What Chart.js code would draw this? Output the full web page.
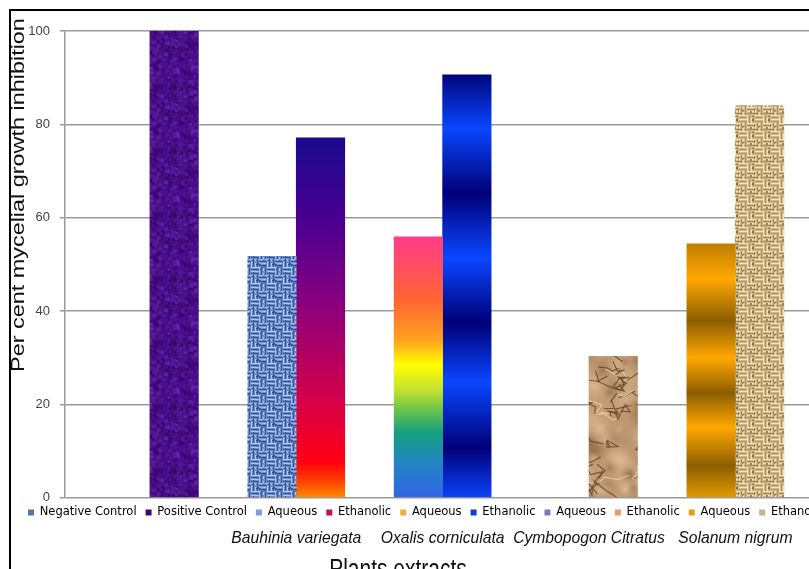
<!DOCTYPE html>
<html><head><meta charset="utf-8">
<script src="https://cdn.jsdelivr.net/npm/chart.js@4.4.1/dist/chart.umd.min.js"></script>
<style>
html,body{margin:0;padding:0;background:#fff;overflow:hidden;width:809px;height:569px;}
#frame{position:absolute;left:9px;top:9px;width:900px;height:600px;border:2px solid #000;background:#fff;}
canvas{display:block;}
</style></head><body>
<div id="frame"><canvas id="c" width="900" height="600"></canvas></div>
<script>
// ---- data ----
const seriesNames = ['Negative Control','Positive Control','Aqueous','Ethanolic','Aqueous','Ethanolic','Aqueous','Ethanolic','Aqueous','Ethanolic'];
const groupLabels = ['', 'Bauhinia variegata', 'Oxalis corniculata', 'Cymbopogon Citratus', 'Solanum nigrum'];
const leftBarValues  = [0, 51.7, 55.9, 0, 54.4];     // Negative Control, then Aqueous extracts
const rightBarValues = [100, 77.1, 90.6, 30.3, 84.0]; // Positive Control, then Ethanolic extracts
const yTicks = [0, 20, 40, 60, 80, 100];
const yTitle = 'Per cent mycelial growth inhibition';
const xTitle = 'Plants extracts';

// ---- styles ----
const legendColors = ['#4f74b0','#3c0a78','#7e9ed6','#c8104c','#f0b040','#1838d8','#8878b8','#e89a68','#e0a010','#c8b48c'];

function makeNoise(seed){ let s = seed >>> 0; return function(){ s = (Math.imul(s,1664525) + 1013904223) >>> 0; return s / 4294967296; }; }
function tile(w,h,draw){ const cv=document.createElement('canvas'); cv.width=w; cv.height=h; draw(cv.getContext('2d'),w,h); return cv; }
function wrapped(w,h,fn){ for(const dx of [-w,0,w]) for(const dy of [-h,0,h]) fn(dx,dy); }

const purpleTex = tile(64,64,(g,w,h)=>{
  g.fillStyle='#4a0e88'; g.fillRect(0,0,w,h);
  const r=makeNoise(7); const cols=['#34086a','#5c1ca6','#2a0656','#6a2ab8','#420c7c'];
  for(let i=0;i<900;i++){ g.globalAlpha=0.3+0.4*r(); g.fillStyle=cols[Math.floor(r()*cols.length)];
    const x=r()*w, y=r()*h, s=1+r()*3; wrapped(w,h,(dx,dy)=>g.fillRect(x+dx,y+dy,s,s)); }
  g.globalAlpha=1;
});
function weave(base, light, dark, seed, speck, n){
  return tile(16,16,(g,w,h)=>{
    g.fillStyle=base; g.fillRect(0,0,w,h);
    for(let by=0;by<2;by++) for(let bx=0;bx<2;bx++){
      const ox=bx*8, oy=by*8, horiz=(bx+by)%2===0;
      for(let k=0;k<4;k++){
        g.fillStyle = k%2 ? dark : light;
        if(horiz) g.fillRect(ox, oy+k*2, 8, 1); else g.fillRect(ox+k*2, oy, 1, 8);
      }
    }
    const r=makeNoise(seed);
    for(let i=0;i<n;i++){ g.globalAlpha=0.5*r()+0.25; g.fillStyle=speck; g.fillRect(Math.floor(r()*w),Math.floor(r()*h),1+Math.floor(r()*2),1+Math.floor(r()*2)); }
    g.globalAlpha=1;
  });
}
const blueTex = weave('#6f90cc','#b0c8ee','#34569c',3,'#1e3a7c',24);
const burlapTex = weave('#d2b987','#f2e4c2','#b29462',5,'#6e4e26',16);
const paperTex = tile(100,140,(g,w,h)=>{
  g.fillStyle='#c39b74'; g.fillRect(0,0,w,h);
  const r=makeNoise(11);
  for(let i=0;i<90;i++){ const x=r()*w,y=r()*h,rad=6+r()*18; const light=r()<0.5;
    wrapped(w,h,(dx,dy)=>{ const grd=g.createRadialGradient(x+dx,y+dy,0,x+dx,y+dy,rad);
      grd.addColorStop(0, light?'rgba(232,204,166,0.6)':'rgba(120,84,50,0.5)'); grd.addColorStop(1,'rgba(195,155,116,0)');
      g.fillStyle=grd; g.fillRect(x+dx-rad,y+dy-rad,rad*2,rad*2); }); }
  g.lineWidth=1.2;
  for(let i=0;i<45;i++){ const pts=[]; let x=r()*w,y=r()*h; pts.push([x,y]);
    for(let k=0;k<4;k++){ x+=(r()-0.5)*26; y+=(r()-0.5)*20; pts.push([x,y]); }
    const col = r()<0.75?'rgba(92,62,36,0.75)':'rgba(236,214,180,0.7)';
    wrapped(w,h,(dx,dy)=>{ g.strokeStyle=col; g.beginPath(); pts.forEach(([px,py],j)=> j? g.lineTo(px+dx,py+dy) : g.moveTo(px+dx,py+dy)); g.stroke(); }); }
});

const gradientStops = {
  bauEt: [[0,'#1a0a8c'],[0.23,'#4a0092'],[0.45,'#86007e'],[0.72,'#d2004c'],[0.9,'#ff0012'],[0.95,'#ff3a00'],[1,'#ff8c00']],
  oxAq:  [[0,'#ff3c8a'],[0.24,'#ff6432'],[0.4,'#ffa41e'],[0.49,'#ffff00'],[0.59,'#c4e030'],[0.67,'#64c04e'],[0.75,'#14a07e'],[0.87,'#2284c4'],[1,'#3264e6']],
  oxEt:  [[0,'#00067e'],[0.126,'#0a46ff'],[0.28,'#000078'],[0.434,'#0a46ff'],[0.585,'#000078'],[0.727,'#0a46ff'],[0.882,'#000078'],[1,'#0a44f8']],
  solAq: [[0,'#c07e00'],[0.138,'#ffa800'],[0.303,'#8c5e00'],[0.449,'#ffa800'],[0.587,'#8c5e00'],[0.724,'#ffa800'],[0.874,'#8c5e00'],[1,'#e29a00']]
};
const fillKeys = [
  ['none','blue','oxAq','none','solAq'],
  ['purple','bauEt','oxEt','paper','burlap']
];
const patternCache = {};
function fillFor(c){
  if (c.type !== 'data') return 'rgba(0,0,0,0)';
  const key = fillKeys[c.datasetIndex][c.dataIndex];
  const chart = c.chart, g = chart.ctx;
  if (key === 'none') return 'rgba(0,0,0,0)';
  const texMap = {purple: purpleTex, blue: blueTex, burlap: burlapTex, paper: paperTex};
  if (texMap[key]) { if(!patternCache[key]) patternCache[key] = g.createPattern(texMap[key],'repeat'); return patternCache[key]; }
  const ys = chart.scales.y; if (!ys) return '#888';
  const v = c.raw && c.raw.y !== undefined ? c.raw.y : 0;
  const top = ys.getPixelForValue(v), bot = ys.getPixelForValue(0);
  const grd = g.createLinearGradient(0, top, 0, bot);
  gradientStops[key].forEach(([o,col]) => grd.addColorStop(o,col));
  return grd;
}

const titlesPlugin = {
  id: 'axisTitles',
  afterDraw(chart){
    const g = chart.ctx;
    g.save();
    g.fillStyle = '#111';
    g.font = '18px "Liberation Sans", Arial, sans-serif';
    g.textAlign = 'center'; g.textBaseline = 'middle';
    g.translate(8, 184); g.rotate(-Math.PI/2); g.scale(1.3, 1);
    g.fillText(yTitle, 0, 0);
    g.restore();
    g.save();
    g.fillStyle = '#111';
    g.font = '21px "Liberation Sans", Arial, sans-serif';
    g.textAlign = 'center'; g.textBaseline = 'alphabetic';
    g.translate(387, 567); g.scale(1, 1.33);
    g.fillText(xTitle, 0, 0);
    g.restore();
  }
};

new Chart(document.getElementById('c'), {
  type: 'bar',
  data: {
    datasets: [
      { label: 'Negative Control / Aqueous', data: leftBarValues.map((v,i)=>({x:i, y:v})), backgroundColor: fillFor, borderWidth: 0 },
      { label: 'Positive Control / Ethanolic', data: rightBarValues.map((v,i)=>({x:i, y:v})), backgroundColor: fillFor, borderWidth: 0 }
    ]
  },
  options: {
    responsive: false, animation: false,
    barThickness: 48.5,
    layout: { padding: { top: 20, left: 8, right: 0, bottom: 62 } },
    plugins: {
      tooltip: { enabled: false },
      legend: {
        position: 'bottom', align: 'start', weight: -1,
        labels: {
          boxWidth: 6, boxHeight: 6, padding: 9, color: '#3a3a4e',
          font: { family: '"DejaVu Sans", Verdana, sans-serif', size: 11.5 },
          generateLabels: () => seriesNames.map((n,i)=>({ text: n, fillStyle: legendColors[i], strokeStyle: legendColors[i], lineWidth: 0, hidden: false, index: i }))
        }
      }
    },
    scales: {
      x: {
        type: 'linear', min: -0.58, max: 5.2, offset: false,
        grid: { display: false, drawTicks: false }, border: { display: false },
        afterBuildTicks: a => { a.ticks = groupLabels.map((_,i)=>({value:i})); },
        ticks: { autoSkip: false, maxRotation: 0, padding: 1, color: '#111',
          font: { family: '"Liberation Sans", Arial, sans-serif', size: 15.7, style: 'italic' },
          callback: v => groupLabels[v] !== undefined ? groupLabels[v] : '' }
      },
      y: {
        min: 0, max: 100,
        afterFit: s => { s.width = 46; },
        afterBuildTicks: a => { a.ticks = yTicks.map(v=>({value:v})); },
        ticks: { padding: 10, color: '#444', font: { family: '"Liberation Sans", Arial, sans-serif', size: 13 } },
        grid: { color: '#9a9a9a', lineWidth: 1.5, tickLength: 5 },
        border: { color: '#9a9a9a', width: 1.5 }
      }
    }
  },
  plugins: [titlesPlugin]
});
</script></body></html>
